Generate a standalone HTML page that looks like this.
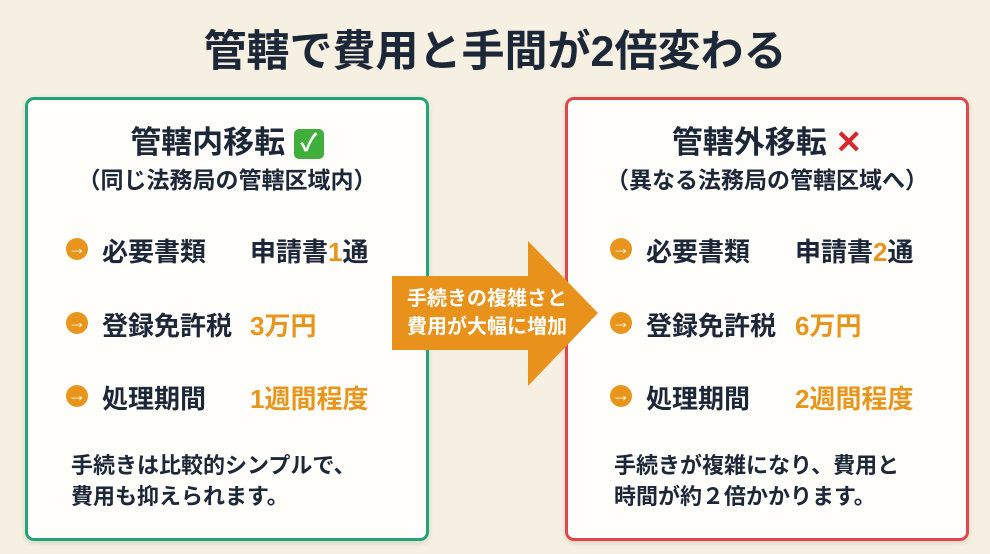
<!DOCTYPE html>
<html><head><meta charset="utf-8"><style>
body{margin:0;width:990px;height:554px;background:#f6f0e2;font-family:"Liberation Sans","Noto Sans CJK JP",sans-serif;color:#1c2738;position:relative;overflow:hidden}
.a{position:absolute;white-space:nowrap;font-weight:bold}
.box{position:absolute;top:97px;width:398px;height:438px;background:#fffefb;border-radius:9px;box-shadow:0 2px 6px rgba(0,0,0,.12)}
.c{position:absolute;width:22px;height:22px;border-radius:50%;background:#e8951c;color:#fff;font-size:18px;line-height:21px;text-align:center;font-weight:bold}
.o{color:#e8951c}
.r{font-size:26px}
</style></head><body>
<div class="a" style="left:0;width:990px;text-align:center;top:17px;font-size:43px">管轄で費用と手間が2倍変わる</div>
<div class="box" style="left:25px;border:3px solid #22a37a"></div>
<div class="box" style="left:565px;border:3px solid #e0474a"></div>

<div class="a" style="left:26px;width:402px;text-align:center;top:117px;font-size:31px">管轄内移転 <span style="display:inline-block;width:30px;height:30px;background:#3fae3a;border-radius:5px;color:#fff;font-size:24px;line-height:30px;vertical-align:2px">✓</span></div>
<div class="a" style="left:26px;width:402px;text-align:center;top:161px;font-size:23px">（同じ法務局の管轄区域内）</div>
<div class="c" style="left:66px;top:238px">→</div><div class="a r" style="left:102px;top:232px">必要書類</div><div class="a r" style="left:250px;top:232px">申請書<span class="o">1</span>通</div>
<div class="c" style="left:66px;top:312px">→</div><div class="a r" style="left:102px;top:306px">登録免許税</div><div class="a o r" style="left:250px;top:306px">3万円</div>
<div class="c" style="left:66px;top:385px">→</div><div class="a r" style="left:102px;top:379px">処理期間</div><div class="a o r" style="left:250px;top:379px">1週間程度</div>
<div class="a" style="left:71px;top:450px;font-size:22px;line-height:31px">手続きは比較的シンプルで、<br>費用も抑えられます。</div>

<div class="a" style="left:566px;width:402px;text-align:center;top:117px;font-size:31px">管轄外移転 <span style="color:#d8262b;font-size:32px">✕</span></div>
<div class="a" style="left:566px;width:402px;text-align:center;top:161px;font-size:23px">（異なる法務局の管轄区域へ）</div>
<div class="c" style="left:610px;top:238px">→</div><div class="a r" style="left:646px;top:232px">必要書類</div><div class="a r" style="left:795px;top:232px">申請書<span class="o">2</span>通</div>
<div class="c" style="left:610px;top:312px">→</div><div class="a r" style="left:646px;top:306px">登録免許税</div><div class="a o r" style="left:795px;top:306px">6万円</div>
<div class="c" style="left:610px;top:385px">→</div><div class="a r" style="left:646px;top:379px">処理期間</div><div class="a o r" style="left:795px;top:379px">2週間程度</div>
<div class="a" style="left:614px;top:450px;font-size:22px;line-height:31px">手続きが複雑になり、費用と<br>時間が約２倍かかります。</div>

<svg style="position:absolute;left:0;top:0" width="990" height="554"><polygon points="392,276 528,276 528,241 598,313 528,386 528,350 392,350" fill="#e8921c"/></svg>
<div class="a" style="left:392px;width:190px;text-align:center;top:285px;font-size:20px;line-height:28px;color:#fff">手続きの複雑さと<br>費用が大幅に増加</div>
</body></html>
